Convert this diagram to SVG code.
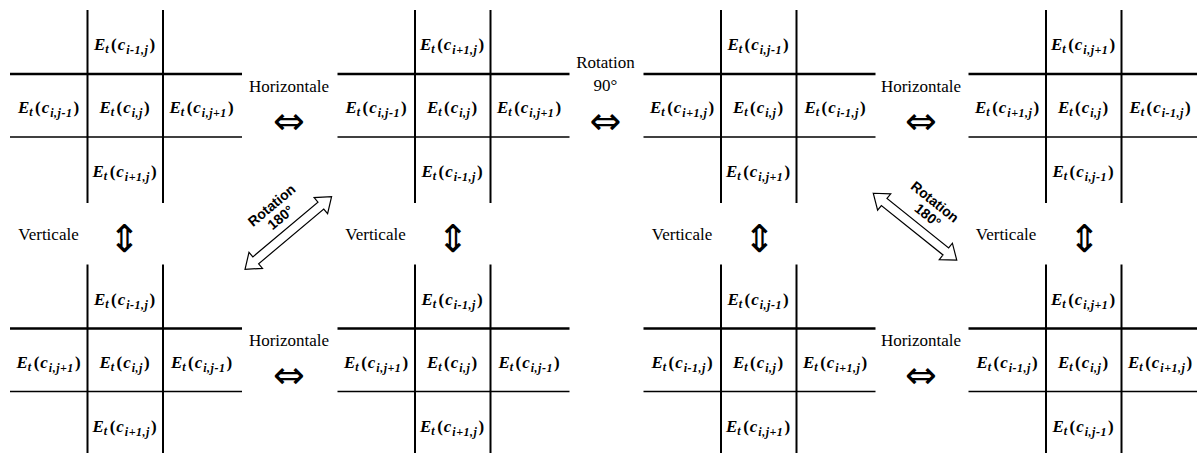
<svg xmlns="http://www.w3.org/2000/svg" xmlns:xlink="http://www.w3.org/1999/xlink" width="1197" height="453" viewBox="0 0 1197 453">
<style>
.ht{stroke:#000;stroke-width:2.5}
.hb{stroke:#000;stroke-width:1.5}
.v{stroke:#000;stroke-width:2}
.m{font-family:"Liberation Serif",serif;font-weight:bold;font-style:italic;font-size:17px;text-anchor:middle;fill:#000}
.s{font-size:12px;letter-spacing:0.5px}
.p{font-style:normal}
.lbl{font-family:"Liberation Serif",serif;font-size:17px;text-anchor:middle;fill:#000}
.sym{font-family:"DejaVu Sans",sans-serif;font-size:38px;text-anchor:middle;fill:#000}
.rot{font-family:"Liberation Sans",sans-serif;font-weight:bold;font-size:14px;text-anchor:middle;fill:#000}
.blk{fill:#fff;stroke:#000;stroke-width:1.2;stroke-linejoin:miter}
</style>
<defs>
<g id="grid">
<line class="ht" x1="10" y1="74" x2="242" y2="74"/>
<line class="hb" x1="10" y1="137" x2="242" y2="137"/>
<line class="v" x1="87.5" y1="10" x2="87.5" y2="203"/>
<line class="v" x1="163" y1="10" x2="163" y2="203"/>
</g>
</defs>

<g id="grid-top-1">
<use xlink:href="#grid"/>
<text class="m" x="124.5" y="50">E<tspan class="s" dy="3">t</tspan><tspan class="p" dy="-3" dx="2">(</tspan><tspan dx="1">c</tspan><tspan class="s" dy="4" dx="1">i-1,j</tspan><tspan class="p" dy="-4" dx="1">)</tspan></text>
<text class="m" x="48.5" y="113">E<tspan class="s" dy="3">t</tspan><tspan class="p" dy="-3" dx="2">(</tspan><tspan dx="1">c</tspan><tspan class="s" dy="4" dx="1">i,j-1</tspan><tspan class="p" dy="-4" dx="1">)</tspan></text>
<text class="m" x="124.5" y="113">E<tspan class="s" dy="3">t</tspan><tspan class="p" dy="-3" dx="2">(</tspan><tspan dx="1">c</tspan><tspan class="s" dy="4" dx="1">i,j</tspan><tspan class="p" dy="-4" dx="1">)</tspan></text>
<text class="m" x="201.5" y="113">E<tspan class="s" dy="3">t</tspan><tspan class="p" dy="-3" dx="2">(</tspan><tspan dx="1">c</tspan><tspan class="s" dy="4" dx="1">i,j+1</tspan><tspan class="p" dy="-4" dx="1">)</tspan></text>
<text class="m" x="124.5" y="177">E<tspan class="s" dy="3">t</tspan><tspan class="p" dy="-3" dx="2">(</tspan><tspan dx="1">c</tspan><tspan class="s" dy="4" dx="1">i+1,j</tspan><tspan class="p" dy="-4" dx="1">)</tspan></text>
</g>

<g id="grid-top-2" transform="translate(327.5,0)">
<use xlink:href="#grid"/>
<text class="m" x="124.5" y="50">E<tspan class="s" dy="3">t</tspan><tspan class="p" dy="-3" dx="2">(</tspan><tspan dx="1">c</tspan><tspan class="s" dy="4" dx="1">i+1,j</tspan><tspan class="p" dy="-4" dx="1">)</tspan></text>
<text class="m" x="48.5" y="113">E<tspan class="s" dy="3">t</tspan><tspan class="p" dy="-3" dx="2">(</tspan><tspan dx="1">c</tspan><tspan class="s" dy="4" dx="1">i,j-1</tspan><tspan class="p" dy="-4" dx="1">)</tspan></text>
<text class="m" x="124.5" y="113">E<tspan class="s" dy="3">t</tspan><tspan class="p" dy="-3" dx="2">(</tspan><tspan dx="1">c</tspan><tspan class="s" dy="4" dx="1">i,j</tspan><tspan class="p" dy="-4" dx="1">)</tspan></text>
<text class="m" x="201.5" y="113">E<tspan class="s" dy="3">t</tspan><tspan class="p" dy="-3" dx="2">(</tspan><tspan dx="1">c</tspan><tspan class="s" dy="4" dx="1">i,j+1</tspan><tspan class="p" dy="-4" dx="1">)</tspan></text>
<text class="m" x="124.5" y="177">E<tspan class="s" dy="3">t</tspan><tspan class="p" dy="-3" dx="2">(</tspan><tspan dx="1">c</tspan><tspan class="s" dy="4" dx="1">i-1,j</tspan><tspan class="p" dy="-4" dx="1">)</tspan></text>
</g>

<g id="grid-top-3" transform="translate(633.5,0)">
<use xlink:href="#grid"/>
<text class="m" x="124.5" y="50">E<tspan class="s" dy="3">t</tspan><tspan class="p" dy="-3" dx="2">(</tspan><tspan dx="1">c</tspan><tspan class="s" dy="4" dx="1">i,j-1</tspan><tspan class="p" dy="-4" dx="1">)</tspan></text>
<text class="m" x="48.5" y="113">E<tspan class="s" dy="3">t</tspan><tspan class="p" dy="-3" dx="2">(</tspan><tspan dx="1">c</tspan><tspan class="s" dy="4" dx="1">i+1,j</tspan><tspan class="p" dy="-4" dx="1">)</tspan></text>
<text class="m" x="124.5" y="113">E<tspan class="s" dy="3">t</tspan><tspan class="p" dy="-3" dx="2">(</tspan><tspan dx="1">c</tspan><tspan class="s" dy="4" dx="1">i,j</tspan><tspan class="p" dy="-4" dx="1">)</tspan></text>
<text class="m" x="201.5" y="113">E<tspan class="s" dy="3">t</tspan><tspan class="p" dy="-3" dx="2">(</tspan><tspan dx="1">c</tspan><tspan class="s" dy="4" dx="1">i-1,j</tspan><tspan class="p" dy="-4" dx="1">)</tspan></text>
<text class="m" x="124.5" y="177">E<tspan class="s" dy="3">t</tspan><tspan class="p" dy="-3" dx="2">(</tspan><tspan dx="1">c</tspan><tspan class="s" dy="4" dx="1">i,j+1</tspan><tspan class="p" dy="-4" dx="1">)</tspan></text>
</g>

<g id="grid-top-4" transform="translate(958.5,0)">
<use xlink:href="#grid"/>
<text class="m" x="124.5" y="50">E<tspan class="s" dy="3">t</tspan><tspan class="p" dy="-3" dx="2">(</tspan><tspan dx="1">c</tspan><tspan class="s" dy="4" dx="1">i,j+1</tspan><tspan class="p" dy="-4" dx="1">)</tspan></text>
<text class="m" x="48.5" y="113">E<tspan class="s" dy="3">t</tspan><tspan class="p" dy="-3" dx="2">(</tspan><tspan dx="1">c</tspan><tspan class="s" dy="4" dx="1">i+1,j</tspan><tspan class="p" dy="-4" dx="1">)</tspan></text>
<text class="m" x="124.5" y="113">E<tspan class="s" dy="3">t</tspan><tspan class="p" dy="-3" dx="2">(</tspan><tspan dx="1">c</tspan><tspan class="s" dy="4" dx="1">i,j</tspan><tspan class="p" dy="-4" dx="1">)</tspan></text>
<text class="m" x="201.5" y="113">E<tspan class="s" dy="3">t</tspan><tspan class="p" dy="-3" dx="2">(</tspan><tspan dx="1">c</tspan><tspan class="s" dy="4" dx="1">i-1,j</tspan><tspan class="p" dy="-4" dx="1">)</tspan></text>
<text class="m" x="124.5" y="177">E<tspan class="s" dy="3">t</tspan><tspan class="p" dy="-3" dx="2">(</tspan><tspan dx="1">c</tspan><tspan class="s" dy="4" dx="1">i,j-1</tspan><tspan class="p" dy="-4" dx="1">)</tspan></text>
</g>

<g id="grid-bottom-1" transform="translate(0,254.5)">
<use xlink:href="#grid"/>
<text class="m" x="124.5" y="50">E<tspan class="s" dy="3">t</tspan><tspan class="p" dy="-3" dx="2">(</tspan><tspan dx="1">c</tspan><tspan class="s" dy="4" dx="1">i-1,j</tspan><tspan class="p" dy="-4" dx="1">)</tspan></text>
<text class="m" x="48.5" y="113">E<tspan class="s" dy="3">t</tspan><tspan class="p" dy="-3" dx="2">(</tspan><tspan dx="1">c</tspan><tspan class="s" dy="4" dx="1">i,j+1</tspan><tspan class="p" dy="-4" dx="1">)</tspan></text>
<text class="m" x="124.5" y="113">E<tspan class="s" dy="3">t</tspan><tspan class="p" dy="-3" dx="2">(</tspan><tspan dx="1">c</tspan><tspan class="s" dy="4" dx="1">i,j</tspan><tspan class="p" dy="-4" dx="1">)</tspan></text>
<text class="m" x="201.5" y="113">E<tspan class="s" dy="3">t</tspan><tspan class="p" dy="-3" dx="2">(</tspan><tspan dx="1">c</tspan><tspan class="s" dy="4" dx="1">i,j-1</tspan><tspan class="p" dy="-4" dx="1">)</tspan></text>
<text class="m" x="124.5" y="177">E<tspan class="s" dy="3">t</tspan><tspan class="p" dy="-3" dx="2">(</tspan><tspan dx="1">c</tspan><tspan class="s" dy="4" dx="1">i+1,j</tspan><tspan class="p" dy="-4" dx="1">)</tspan></text>
</g>

<g id="grid-bottom-2" transform="translate(327.5,254.5)">
<use xlink:href="#grid"/>
<text class="m" x="124.5" y="50">E<tspan class="s" dy="3">t</tspan><tspan class="p" dy="-3" dx="2">(</tspan><tspan dx="1">c</tspan><tspan class="s" dy="4" dx="1">i-1,j</tspan><tspan class="p" dy="-4" dx="1">)</tspan></text>
<text class="m" x="48.5" y="113">E<tspan class="s" dy="3">t</tspan><tspan class="p" dy="-3" dx="2">(</tspan><tspan dx="1">c</tspan><tspan class="s" dy="4" dx="1">i,j+1</tspan><tspan class="p" dy="-4" dx="1">)</tspan></text>
<text class="m" x="124.5" y="113">E<tspan class="s" dy="3">t</tspan><tspan class="p" dy="-3" dx="2">(</tspan><tspan dx="1">c</tspan><tspan class="s" dy="4" dx="1">i,j</tspan><tspan class="p" dy="-4" dx="1">)</tspan></text>
<text class="m" x="201.5" y="113">E<tspan class="s" dy="3">t</tspan><tspan class="p" dy="-3" dx="2">(</tspan><tspan dx="1">c</tspan><tspan class="s" dy="4" dx="1">i,j-1</tspan><tspan class="p" dy="-4" dx="1">)</tspan></text>
<text class="m" x="124.5" y="177">E<tspan class="s" dy="3">t</tspan><tspan class="p" dy="-3" dx="2">(</tspan><tspan dx="1">c</tspan><tspan class="s" dy="4" dx="1">i+1,j</tspan><tspan class="p" dy="-4" dx="1">)</tspan></text>
</g>

<g id="grid-bottom-3" transform="translate(633.5,254.5)">
<use xlink:href="#grid"/>
<text class="m" x="124.5" y="50">E<tspan class="s" dy="3">t</tspan><tspan class="p" dy="-3" dx="2">(</tspan><tspan dx="1">c</tspan><tspan class="s" dy="4" dx="1">i,j-1</tspan><tspan class="p" dy="-4" dx="1">)</tspan></text>
<text class="m" x="48.5" y="113">E<tspan class="s" dy="3">t</tspan><tspan class="p" dy="-3" dx="2">(</tspan><tspan dx="1">c</tspan><tspan class="s" dy="4" dx="1">i-1,j</tspan><tspan class="p" dy="-4" dx="1">)</tspan></text>
<text class="m" x="124.5" y="113">E<tspan class="s" dy="3">t</tspan><tspan class="p" dy="-3" dx="2">(</tspan><tspan dx="1">c</tspan><tspan class="s" dy="4" dx="1">i,j</tspan><tspan class="p" dy="-4" dx="1">)</tspan></text>
<text class="m" x="201.5" y="113">E<tspan class="s" dy="3">t</tspan><tspan class="p" dy="-3" dx="2">(</tspan><tspan dx="1">c</tspan><tspan class="s" dy="4" dx="1">i+1,j</tspan><tspan class="p" dy="-4" dx="1">)</tspan></text>
<text class="m" x="124.5" y="177">E<tspan class="s" dy="3">t</tspan><tspan class="p" dy="-3" dx="2">(</tspan><tspan dx="1">c</tspan><tspan class="s" dy="4" dx="1">i,j+1</tspan><tspan class="p" dy="-4" dx="1">)</tspan></text>
</g>

<g id="grid-bottom-4" transform="translate(958.5,254.5)">
<use xlink:href="#grid"/>
<text class="m" x="124.5" y="50">E<tspan class="s" dy="3">t</tspan><tspan class="p" dy="-3" dx="2">(</tspan><tspan dx="1">c</tspan><tspan class="s" dy="4" dx="1">i,j+1</tspan><tspan class="p" dy="-4" dx="1">)</tspan></text>
<text class="m" x="48.5" y="113">E<tspan class="s" dy="3">t</tspan><tspan class="p" dy="-3" dx="2">(</tspan><tspan dx="1">c</tspan><tspan class="s" dy="4" dx="1">i-1,j</tspan><tspan class="p" dy="-4" dx="1">)</tspan></text>
<text class="m" x="124.5" y="113">E<tspan class="s" dy="3">t</tspan><tspan class="p" dy="-3" dx="2">(</tspan><tspan dx="1">c</tspan><tspan class="s" dy="4" dx="1">i,j</tspan><tspan class="p" dy="-4" dx="1">)</tspan></text>
<text class="m" x="201.5" y="113">E<tspan class="s" dy="3">t</tspan><tspan class="p" dy="-3" dx="2">(</tspan><tspan dx="1">c</tspan><tspan class="s" dy="4" dx="1">i+1,j</tspan><tspan class="p" dy="-4" dx="1">)</tspan></text>
<text class="m" x="124.5" y="177">E<tspan class="s" dy="3">t</tspan><tspan class="p" dy="-3" dx="2">(</tspan><tspan dx="1">c</tspan><tspan class="s" dy="4" dx="1">i,j-1</tspan><tspan class="p" dy="-4" dx="1">)</tspan></text>
</g>

<g id="connectors">
<text class="lbl" x="289" y="91.5">Horizontale</text>
<text class="sym" x="289" y="133.5">⇔</text>
<text class="lbl" x="289" y="346">Horizontale</text>
<text class="sym" x="289" y="388">⇔</text>
<text class="lbl" x="605.5" y="67.5">Rotation</text>
<text class="lbl" x="605.5" y="90.5">90°</text>
<text class="sym" x="605.5" y="133.5">⇔</text>
<text class="lbl" x="921" y="91.5">Horizontale</text>
<text class="sym" x="921" y="133.5">⇔</text>
<text class="lbl" x="921" y="346">Horizontale</text>
<text class="sym" x="921" y="388">⇔</text>

<text class="lbl" x="48.5" y="239.5">Verticale</text>
<text class="lbl" x="375.5" y="239.5">Verticale</text>
<text class="lbl" x="682" y="239.5">Verticale</text>
<text class="lbl" x="1006" y="239.5">Verticale</text>
<text class="sym" x="124.5" y="251.5">⇕</text>
<text class="sym" x="453" y="251.5">⇕</text>
<text class="sym" x="759.5" y="251.5">⇕</text>
<text class="sym" x="1084.5" y="251.5">⇕</text>

<g transform="translate(288.3,233) rotate(-40)">
<path class="blk" d="M-56.5,0 L-42.5,-10.5 L-42.5,-4.5 L42.5,-4.5 L42.5,-10.5 L56.5,0 L42.5,10.5 L42.5,4.5 L-42.5,4.5 L-42.5,10.5 Z"/>
<text class="rot" x="5" y="-27">Rotation</text>
<text class="rot" x="4" y="-12">180°</text>
</g>
<g transform="translate(915,226.7) rotate(38.7)">
<path class="blk" d="M-53.5,0 L-39.5,-10.5 L-39.5,-4.5 L39.5,-4.5 L39.5,-10.5 L53.5,0 L39.5,10.5 L39.5,4.5 L-39.5,4.5 L-39.5,10.5 Z"/>
<text class="rot" x="0" y="-27">Rotation</text>
<text class="rot" x="3" y="-12">180°</text>
</g>
</g>
</svg>
